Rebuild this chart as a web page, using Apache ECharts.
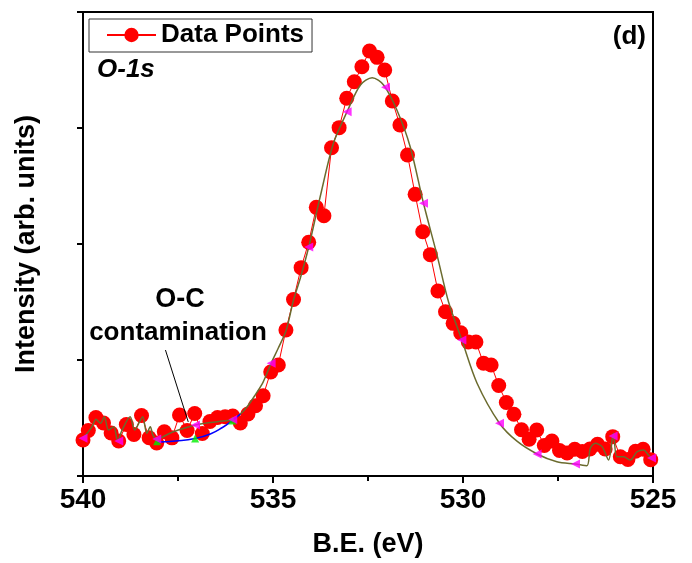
<!DOCTYPE html>
<html>
<head>
<meta charset="utf-8">
<script src="https://cdn.jsdelivr.net/npm/echarts@6/dist/echarts.min.js"></script>
<style>
html,body{margin:0;padding:0;background:#fff;}
#chart{width:692px;height:563px;}
</style>
</head>
<body>
<div id="chart"></div>
<script>
// Binding energy (eV) of measured points
var energy = [540.00, 539.86, 539.66, 539.46, 539.26, 539.06, 538.86, 538.66, 538.46, 538.26, 538.06,
  537.86, 537.66, 537.46, 537.26, 537.06, 536.86, 536.66, 536.46, 536.26, 536.06,
  535.86, 535.66, 535.46, 535.26, 535.06, 534.86, 534.66, 534.46, 534.26, 534.06,
  533.86, 533.66, 533.46, 533.26, 533.06, 532.86, 532.66, 532.46, 532.26, 532.06,
  531.86, 531.66, 531.46, 531.26, 531.06, 530.86, 530.66, 530.46, 530.26, 530.06,
  529.86, 529.66, 529.46, 529.26, 529.06, 528.86, 528.66, 528.46, 528.26, 528.06,
  527.86, 527.66, 527.46, 527.26, 527.06, 526.86, 526.66, 526.46, 526.26, 526.06,
  525.86, 525.66, 525.46, 525.26, 525.06];
// Measured intensity (arb. units)
var intensity = [310, 392, 504, 457, 371, 302, 444, 358, 522, 330, 284,
  382, 329, 526, 392, 539, 366, 470, 504, 511, 517,
  457, 534, 606, 692, 897, 957, 1259, 1522, 1796, 2015,
  2316, 2244, 2830, 3003, 3256, 3399, 3528, 3664, 3609, 3500,
  3233, 3026, 2767, 2428, 2106, 1908, 1595, 1416, 1316, 1234,
  1155, 1155, 972, 957, 780, 634, 532, 399, 317, 397,
  263, 302, 220, 198, 231, 211, 233, 274, 233, 339,
  166, 142, 213, 231, 141];

// Fit envelope (olive)
var envE = [540.00, 539.89, 539.76, 539.66, 539.54, 539.44, 539.33, 539.19, 539.09, 538.97, 538.76, 538.64, 538.51, 538.43, 538.32, 538.23, 538.16, 538.06,
  537.70, 537.36, 537.04, 536.65, 536.33, 536.06, 535.86, 535.68, 535.47, 535.26, 535.05, 534.86, 534.65, 534.46, 534.28, 534.06,
  533.76, 533.41, 533.05, 532.70, 532.39, 532.09, 531.74, 531.39, 531.04, 530.68, 530.38, 530.03, 529.63, 529.04, 528.58, 528.05,
  527.53, 527.04, 526.74, 526.65, 526.52, 526.34, 526.17, 526.04, 525.95, 525.77, 525.60, 525.42, 525.25, 525.12, 525.00];
var envI = [325, 368, 425, 489, 454, 511, 397, 425, 302, 397, 511, 397, 468, 511, 368, 425, 353, 319,
  371, 409, 440, 461, 474, 487, 534, 597, 698, 810, 972, 1103, 1259, 1517, 1707, 1974,
  2405, 2868, 3141, 3371, 3434, 3371, 3155, 2839, 2351, 1900, 1500, 1172, 800, 455, 300, 190,
  123, 103, 89, 239, 282, 253, 138, 368, 166, 166, 138, 209, 224, 181, 138];

// Background (blue)
var bgE = [538.05, 537.57, 537.05, 536.65, 536.33, 536.07, 535.86];
var bgI = [293, 302, 323, 362, 418, 478, 534];

// Magenta markers on envelope
var magE = [540.00, 539.06, 538.06, 537.04, 536.06, 535.05, 534.06, 533.05, 532.04, 531.04, 530.03, 529.04, 528.05, 527.04, 526.05, 525.04];
var magI = [325, 302, 319, 440, 487, 972, 1974, 3141, 3351, 2351, 1172, 455, 190, 103, 345, 155];

// Green markers on background
var grnE = [538.05, 537.05, 536.07];
var grnI = [300, 323, 478];

var xTicks = [540, 535, 530, 525];

function zip(a, b) { return a.map(function (v, i) { return [v, b[i]]; }); }

var FONT = "'Liberation Sans', Arial, sans-serif";
var chart = echarts.init(document.getElementById('chart'), null, {renderer: 'canvas'});

chart.setOption({
  animation: false,
  backgroundColor: '#fff',
  grid: {left: 83, right: 39, top: 12, bottom: 87, show: true, borderColor: '#000', borderWidth: 2, containLabel: false},
  legend: {
    data: ['Data Points'],
    left: 89, top: 19,
    padding: [3, 8, 4, 17],
    itemWidth: 49, itemHeight: 18, itemGap: 6,
    borderColor: '#333', borderWidth: 1,
    textStyle: {fontFamily: FONT, fontSize: 26, fontWeight: 'bold', color: '#000'}
  },
  xAxis: {
    type: 'value', min: 525, max: 540, interval: 5, inverse: true,
    name: 'B.E. (eV)', nameLocation: 'middle', nameGap: 55,
    nameTextStyle: {fontFamily: FONT, fontSize: 27, fontWeight: 'bold', color: '#000'},
    axisLine: {show: true, lineStyle: {color: '#000', width: 2}},
    axisTick: {show: true, length: 7, lineStyle: {color: '#000', width: 2}},
    minorTick: {show: true, splitNumber: 2, length: 5, lineStyle: {color: '#000', width: 2}},
    axisLabel: {fontFamily: FONT, fontSize: 28, fontWeight: 'bold', color: '#000', margin: 10,
      formatter: function (v) { return xTicks.indexOf(v) >= 0 ? String(v) : ''; }},
    splitLine: {show: false}
  },
  yAxis: {
    type: 'value', min: 0, max: 4000, interval: 1000,
    name: 'Intensity (arb. units)', nameLocation: 'middle', nameGap: 43, nameRotate: 90,
    nameTextStyle: {fontFamily: FONT, fontSize: 27, fontWeight: 'bold', color: '#000'},
    axisLine: {show: true, lineStyle: {color: '#000', width: 2}},
    axisTick: {show: true, length: 6, lineStyle: {color: '#000', width: 2}},
    axisLabel: {show: false},
    splitLine: {show: false}
  },
  series: [
    {
      name: 'Envelope', type: 'line', data: zip(envE, envI), symbol: 'none', smooth: 0.3,
      lineStyle: {color: '#6b6b2e', width: 1.5}, z: 3
    },
    {
      name: 'Background', type: 'line', data: zip(bgE, bgI), symbol: 'none', smooth: true,
      lineStyle: {color: '#0000ff', width: 1.5}, z: 3
    },
    {
      name: 'Data Points', type: 'line', data: zip(energy, intensity),
      symbol: 'circle', symbolSize: 15, clip: true,
      itemStyle: {color: '#ff0000'}, lineStyle: {color: '#ff0000', width: 1}, z: 2,
      markLine: {
        silent: true, symbol: ['none', 'arrow'], symbolSize: [0, 11], label: {show: false},
        lineStyle: {color: '#000', width: 1, type: 'solid'},
        data: [[{coord: [537.83, 1086]}, {coord: [537.23, 466]}]]
      }
    },
    {
      name: 'Bg markers', type: 'scatter', data: zip(grnE, grnI), symbol: 'triangle', symbolSize: 8,
      itemStyle: {color: '#00ee00'}, z: 4
    },
    {
      name: 'Fit markers', type: 'scatter', data: zip(magE, magI), symbol: 'triangle', symbolRotate: 90, symbolSize: 9,
      itemStyle: {color: '#ff00ff'}, z: 5
    }
  ],
  graphic: [
    {type: 'text', left: 97, top: 57, style: {text: 'O-1s', font: "italic bold 26px 'Liberation Sans', Arial, sans-serif", fill: '#000'}},
    {type: 'text', right: 46, top: 24, style: {text: '(d)', font: "bold 26px 'Liberation Sans', Arial, sans-serif", fill: '#000'}},
    {type: 'text', x: 180, y: 300, style: {text: 'O-C', font: "bold 27px 'Liberation Sans', Arial, sans-serif", fill: '#000', textAlign: 'center', textVerticalAlign: 'middle'}},
    {type: 'text', x: 178, y: 333, style: {text: 'contamination', font: "bold 26px 'Liberation Sans', Arial, sans-serif", fill: '#000', textAlign: 'center', textVerticalAlign: 'middle'}}
  ]
});
</script>
</body>
</html>
